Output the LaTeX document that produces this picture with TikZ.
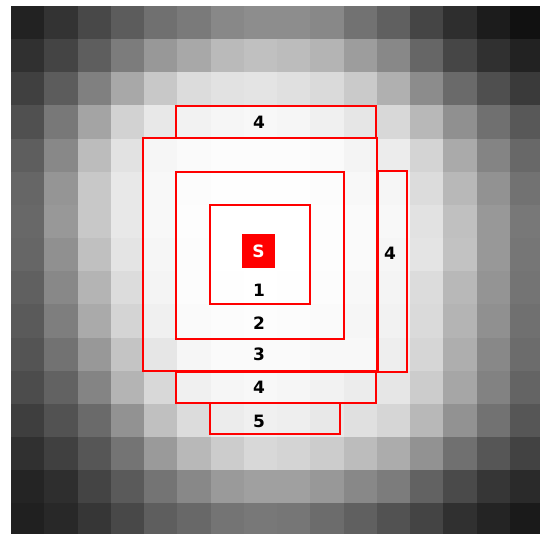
\documentclass[tikz,border=0pt]{standalone}
\usepackage{fontspec}
\setmainfont{DejaVu Sans}
\begin{document}
\begin{tikzpicture}[x=1pt,y=-1pt,
  box/.style={draw=red, line width=1.5pt},
  lbl/.style={font=\fontsize{17}{20}\selectfont\bfseries, text=black, inner sep=0pt},
  srcbox/.style={fill=red, minimum width=33pt, minimum height=34pt, inner sep=0pt, text=white, font=\fontsize{17}{20}\selectfont\bfseries}]
\useasboundingbox (0,0) rectangle (540,534);
\fill[white] (0,0) rectangle (540,534);
\begin{scope}
\clip (0,0) rectangle (540,534);
\foreach \r [count=\j from 0] in {
 {34,51,72,92,112,122,136,141,141,136,114,96,69,46,28,17},
 {48,68,94,124,152,168,186,192,188,180,157,136,102,70,48,34},
 {64,92,128,168,200,220,226,228,224,218,202,176,140,106,79,58},
 {80,120,164,210,232,242,246,248,246,240,230,216,184,144,112,88},
 {94,136,188,226,246,250,252,252,252,250,244,236,212,170,132,104},
 {102,149,200,232,248,252,254,254,254,252,248,246,220,184,146,114},
 {104,152,200,232,248,253,255,255,255,253,250,248,226,192,152,120},
 {102,144,192,228,246,252,255,255,255,253,250,246,228,194,152,118},
 {96,136,180,220,244,252,254,255,254,252,248,244,220,184,148,116},
 {90,126,170,212,240,250,252,253,252,250,246,242,218,180,144,112},
 {84,114,152,196,230,246,250,250,250,248,248,238,214,174,136,108},
 {76,98,132,180,216,240,246,248,246,242,236,230,204,166,130,100},
 {62,82,106,146,192,220,236,240,238,232,224,214,184,146,114,86},
 {48,64,86,116,154,184,204,216,212,204,188,172,146,112,86,66},
 {36,46,68,90,116,136,154,160,160,152,136,124,98,74,54,42},
 {32,40,54,72,94,104,116,120,118,108,96,82,68,48,36,26}}{
  \foreach \v [count=\i from 0] in \r {
    \fill[fill={rgb,255:red,\v;green,\v;blue,\v}]
      ({11+33.25*\i},{6+33.15*\j}) rectangle ({11+33.25*(\i+1)+0.3},{6+33.15*(\j+1)+0.3});
  }
}
\end{scope}
% red region boxes
\draw[box] (176,106) rectangle (376,138);
\draw[box] (143,138) rectangle (377,371);
\draw[box] (176,172) rectangle (344,339);
\draw[box] (210,205) rectangle (310,304);
\draw[box] (378,171) rectangle (407,372);
\draw[box] (176,372) rectangle (376,403);
\draw[box] (210,403) rectangle (340,434);
% source
\node[srcbox] (S) at (258.5,251.3) {S};
% labels
\node[lbl] (l4top) at (259,122) {4};
\node[lbl] (l1) at (259,290) {1};
\node[lbl] (l2) at (259,323.5) {2};
\node[lbl] (l3) at (259,354) {3};
\node[lbl] (l4bot) at (259,387.5) {4};
\node[lbl] (l5) at (259,421) {5};
\node[lbl] (l4right) at (390,253) {4};
\end{tikzpicture}
\end{document}
